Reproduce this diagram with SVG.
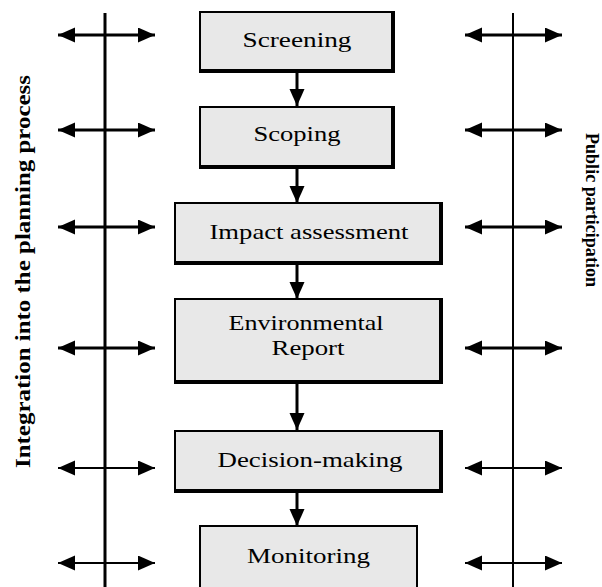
<svg xmlns="http://www.w3.org/2000/svg" width="602" height="587" viewBox="0 0 602 587">
<style>
.frame{fill:#000}
.fill{fill:#e8e8e8}
.lbl{font-family:"Liberation Serif","Times New Roman",serif;font-size:21px;fill:#000;text-anchor:middle}
.side{font-family:"Liberation Serif","Times New Roman",serif;font-weight:bold;fill:#000;text-anchor:middle}
.conn{stroke:#000;fill:none}
</style>
<defs>
<marker id="ah" markerUnits="userSpaceOnUse" markerWidth="18" markerHeight="16" refX="17" refY="7.5" orient="auto-start-reverse">
<path d="M0,0 L17,7.5 L0,15 Z" fill="#000"/>
</marker>
</defs>
<rect width="602" height="587" fill="#fff"/>

<g id="connectors">
<line class="conn" x1="105" y1="13" x2="105" y2="587" stroke-width="3"/>
<line class="conn" x1="513" y1="13" x2="513" y2="587" stroke-width="2"/>
<line class="conn" x1="58" y1="35" x2="155" y2="35" stroke-width="3" marker-start="url(#ah)" marker-end="url(#ah)"/>
<line class="conn" x1="58" y1="130" x2="155" y2="130" stroke-width="3" marker-start="url(#ah)" marker-end="url(#ah)"/>
<line class="conn" x1="58" y1="227" x2="155" y2="227" stroke-width="3" marker-start="url(#ah)" marker-end="url(#ah)"/>
<line class="conn" x1="58" y1="348" x2="155" y2="348" stroke-width="3" marker-start="url(#ah)" marker-end="url(#ah)"/>
<line class="conn" x1="58" y1="468" x2="155" y2="468" stroke-width="2" marker-start="url(#ah)" marker-end="url(#ah)"/>
<line class="conn" x1="58" y1="563" x2="155" y2="563" stroke-width="2" marker-start="url(#ah)" marker-end="url(#ah)"/>
<line class="conn" x1="465" y1="35" x2="562" y2="35" stroke-width="3" marker-start="url(#ah)" marker-end="url(#ah)"/>
<line class="conn" x1="465" y1="130" x2="562" y2="130" stroke-width="3" marker-start="url(#ah)" marker-end="url(#ah)"/>
<line class="conn" x1="465" y1="227" x2="562" y2="227" stroke-width="3" marker-start="url(#ah)" marker-end="url(#ah)"/>
<line class="conn" x1="465" y1="348" x2="562" y2="348" stroke-width="3" marker-start="url(#ah)" marker-end="url(#ah)"/>
<line class="conn" x1="465" y1="468" x2="562" y2="468" stroke-width="2" marker-start="url(#ah)" marker-end="url(#ah)"/>
<line class="conn" x1="465" y1="563" x2="562" y2="563" stroke-width="2" marker-start="url(#ah)" marker-end="url(#ah)"/>
<line class="conn" x1="297" y1="73" x2="297" y2="106" stroke-width="3" marker-end="url(#ah)"/>
<line class="conn" x1="297" y1="169" x2="297" y2="203" stroke-width="3" marker-end="url(#ah)"/>
<line class="conn" x1="297" y1="265" x2="297" y2="299" stroke-width="3" marker-end="url(#ah)"/>
<line class="conn" x1="297" y1="384" x2="297" y2="430" stroke-width="3" marker-end="url(#ah)"/>
<line class="conn" x1="297" y1="493" x2="297" y2="526" stroke-width="3" marker-end="url(#ah)"/>
</g>

<g id="screening">
<rect class="frame" x="199" y="11" width="196" height="62"/>
<rect class="fill" x="201" y="13" width="190" height="56"/>
<text class="lbl" x="297" y="47" textLength="109" lengthAdjust="spacingAndGlyphs">Screening</text>
</g>
<g id="scoping">
<rect class="frame" x="199" y="106" width="196" height="63"/>
<rect class="fill" x="201" y="108" width="190" height="57"/>
<text class="lbl" x="297" y="141" textLength="87" lengthAdjust="spacingAndGlyphs">Scoping</text>
</g>
<g id="impact">
<rect class="frame" x="174" y="202" width="269" height="63"/>
<rect class="fill" x="176" y="204" width="263" height="57"/>
<text class="lbl" x="309" y="239" textLength="199" lengthAdjust="spacingAndGlyphs">Impact assessment</text>
</g>
<g id="report">
<rect class="frame" x="174" y="298" width="269" height="86"/>
<rect class="fill" x="176" y="300" width="263" height="80"/>
<text class="lbl" x="306" y="330" textLength="155" lengthAdjust="spacingAndGlyphs">Environmental</text>
<text class="lbl" x="308" y="355" textLength="73" lengthAdjust="spacingAndGlyphs">Report</text>
</g>
<g id="decision">
<rect class="frame" x="174" y="430" width="269" height="63"/>
<rect class="fill" x="176" y="432" width="263" height="57"/>
<text class="lbl" x="310" y="467" textLength="185" lengthAdjust="spacingAndGlyphs">Decision-making</text>
</g>
<g id="monitoring">
<rect class="frame" x="199" y="525" width="219" height="63"/>
<rect class="fill" x="201" y="527" width="215" height="60"/>
<text class="lbl" x="308.5" y="563" textLength="123" lengthAdjust="spacingAndGlyphs">Monitoring</text>
</g>

<g id="left-label">
<text class="side" font-size="22" transform="translate(30,271.5) rotate(-90)" textLength="393" lengthAdjust="spacingAndGlyphs">Integration into the planning process</text>
</g>
<g id="right-label">
<text class="side" font-size="19" transform="translate(586,210) rotate(90)" textLength="154" lengthAdjust="spacingAndGlyphs">Public participation</text>
</g>
</svg>
